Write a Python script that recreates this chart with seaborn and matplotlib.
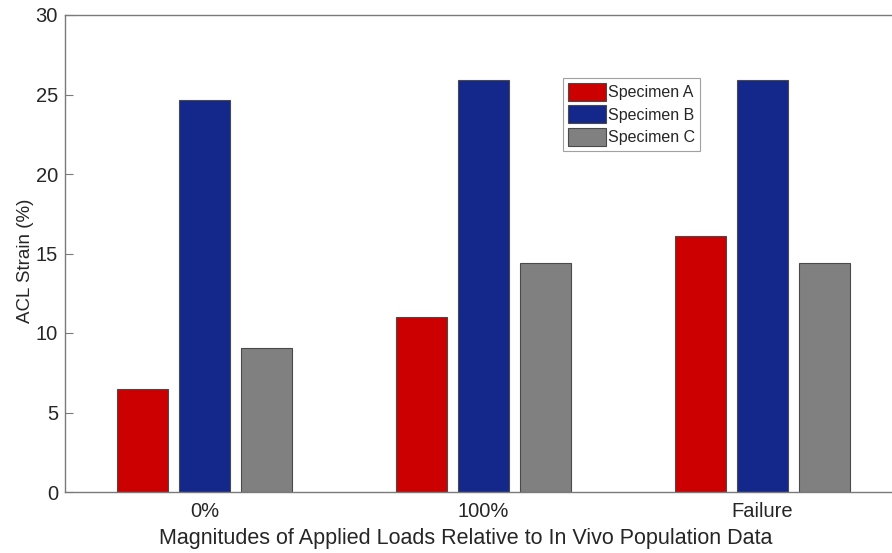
import matplotlib
matplotlib.use("Agg")
import matplotlib.pyplot as plt
import seaborn as sns
import pandas as pd

# Loading conditions and ACL strain per specimen
conditions = ["0%", "100%", "Failure"]
specimens = ["Specimen A", "Specimen B", "Specimen C"]
strain_a = [6.5, 11.0, 16.1]
strain_b = [24.65, 25.9, 25.9]
strain_c = [9.05, 14.4, 14.4]
colors = ["#cc0000", "#13288a", "#808080"]

rows = []
for spec, vals in zip(specimens, [strain_a, strain_b, strain_c]):
    for cond, v in zip(conditions, vals):
        rows.append({"Condition": cond, "Specimen": spec, "Strain": v})
df = pd.DataFrame(rows)

sns.set_theme(style="white")
plt.rcParams["font.family"] = ["Liberation Sans", "DejaVu Sans"]

fig = plt.figure(figsize=(8.92, 5.53), dpi=100)
W, H = 892, 553
left, right, top, bottom = 65, 902, 15, 492
ax = fig.add_axes([left / W, (H - bottom) / H, (right - left) / W, (bottom - top) / H])

sns.barplot(data=df, x="Condition", y="Strain", hue="Specimen",
            order=conditions, hue_order=specimens, palette=colors,
            width=0.667, gap=0.19, edgecolor="#4a4a4a", linewidth=0.8,
            saturation=1, ax=ax)

ax.set_xlim(-0.5, 2.5)
ax.set_ylim(0, 30)
ax.set_yticks([0, 5, 10, 15, 20, 25, 30])
ax.tick_params(axis="both", direction="in", length=6, width=0.8,
               colors="#7a7a7a", labelcolor="#262626", labelsize=14.5,
               left=True, bottom=True)
ax.tick_params(axis="x", pad=7)
ax.tick_params(axis="y", pad=5)
for s in ax.spines.values():
    s.set_visible(True)
    s.set_color("#7a7a7a")
    s.set_linewidth(1.0)

ax.set_xlabel("Magnitudes of Applied Loads Relative to In Vivo Population Data",
              fontsize=15.5, color="#262626")
ax.xaxis.set_label_coords((466 - left) / (right - left), -0.075)
ax.set_ylabel("ACL Strain (%)", fontsize=13.5, color="#262626")
ax.yaxis.set_label_coords(-0.037, 0.485)

leg = ax.legend(loc="upper left", bbox_to_anchor=(0.595, 0.868), fontsize=11.5,
                frameon=True, fancybox=False, edgecolor="#8a8a8a",
                handlelength=2.4, handleheight=1.35, handletextpad=0.1,
                labelspacing=0.3, borderpad=0.3, borderaxespad=0)
leg.get_frame().set_linewidth(0.8)

fig.savefig("out.png", dpi=100)
